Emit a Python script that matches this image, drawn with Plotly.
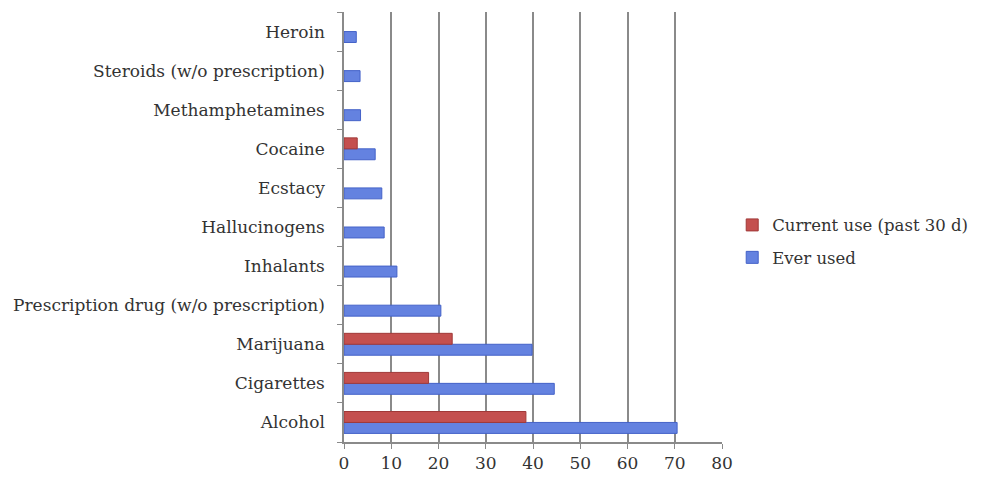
import plotly.graph_objects as go

categories = ["Alcohol", "Cigarettes", "Marijuana", "Prescription drug (w/o prescription)",
              "Inhalants", "Hallucinogens", "Ecstacy", "Cocaine", "Methamphetamines",
              "Steroids (w/o prescription)", "Heroin"]
ever_used = [70.5, 44.5, 39.8, 20.5, 11.2, 8.5, 8.0, 6.6, 3.5, 3.4, 2.6]
current_use = [38.5, 17.9, 22.9, None, None, None, None, 2.8, None, None, None]
x_ticks = [0, 10, 20, 30, 40, 50, 60, 70, 80]

font_family = "DejaVu Serif, Liberation Serif, serif"

fig = go.Figure()
fig.add_trace(go.Bar(
    y=categories, x=ever_used, orientation="h", name="Ever used", legendgroup="ever",
    legendrank=2,
    marker=dict(color="#6482e0", line=dict(color="#4462c8", width=1)),
))
fig.add_trace(go.Bar(
    y=categories, x=current_use, orientation="h", name="Current use (past 30 d)",
    legendgroup="current", legendrank=1,
    marker=dict(color="#c4504f", line=dict(color="#a03938", width=1)),
))

fig.update_layout(
    width=988, height=479,
    margin=dict(l=344, r=266, t=12, b=37),
    paper_bgcolor="white", plot_bgcolor="white",
    barmode="group", bargap=0.44, bargroupgap=0,
    font=dict(family=font_family, size=17, color="#333"),
    showlegend=True,
    legend=dict(traceorder="grouped", x=1.027, y=0.467, xanchor="left", yanchor="middle",
                font=dict(family=font_family, size=16.5, color="#333"),
                itemwidth=30, tracegroupgap=8),
    xaxis=dict(range=[0, 80], tickvals=x_ticks, showgrid=True, gridcolor="#8a8a8a", gridwidth=1.5,
               showline=True, linecolor="#8a8a8a", linewidth=1.5, ticks="outside",
               ticklen=5, tickcolor="#8a8a8a", zeroline=False, fixedrange=True,
               automargin=False),
    yaxis=dict(showline=True, linecolor="#8a8a8a", linewidth=1.5, ticks="outside",
               ticklen=5, tickcolor="#8a8a8a", tickson="boundaries", showgrid=False,
               categoryorder="array", categoryarray=categories, ticklabelstandoff=14,
               automargin=False),
)

fig.write_html("out.html")
